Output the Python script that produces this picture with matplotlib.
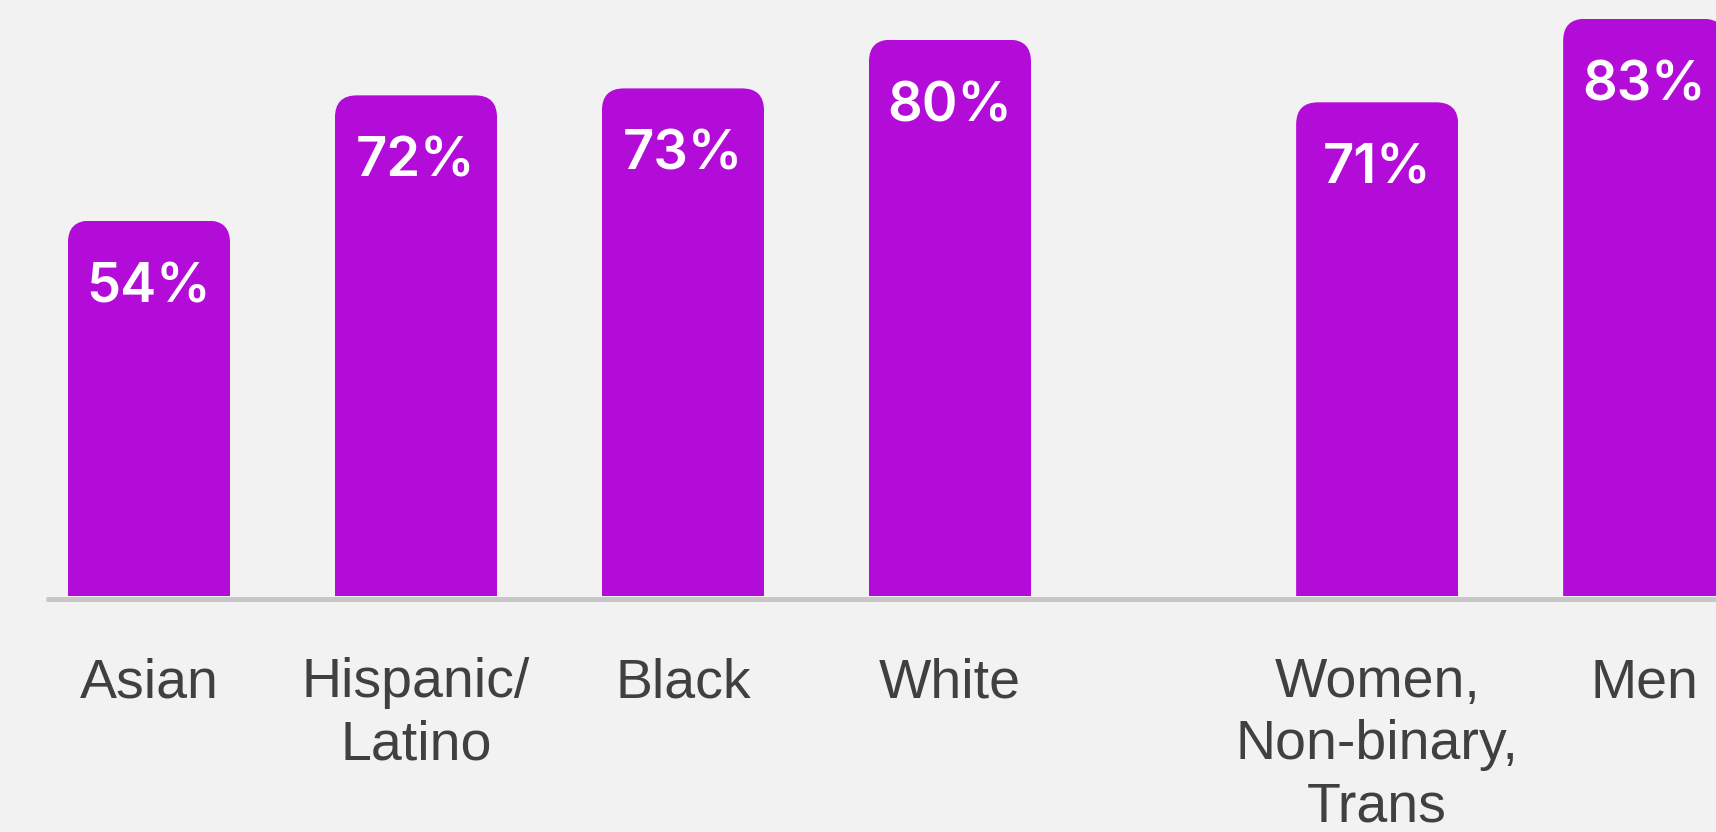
import matplotlib
matplotlib.use("Agg")
import matplotlib.pyplot as plt
from matplotlib.patches import FancyBboxPatch

# Share of each group (percent)
categories = ["Asian", "Hispanic/\nLatino", "Black", "White",
              "Women,\nNon-binary,\nTrans", "Men"]
values = [54, 72, 73, 80, 71, 83]
# race groups first, then a wider gap before the gender groups
positions = [0, 1, 2, 3, 4.6, 5.6]

BG = "#f2f2f2"
PURPLE = "#b30cd9"
LABEL = "#404040"
AXIS = "#c8c6c8"
FONT = "Liberation Sans"

W, H, DPI = 1716, 832, 100
fig = plt.figure(figsize=(W / DPI, H / DPI), dpi=DPI, facecolor=BG)
ax = fig.add_axes([0, 0, 1, 1])
ax.set_facecolor(BG)
xlim = (-0.558, 5.869)
ylim = (-33.84, 85.7)
ax.set_xlim(*xlim)
ax.set_ylim(*ylim)
ax.axis("off")

# pixels per data unit, used to keep the rounded corners circular
px_x = W / (xlim[1] - xlim[0])
px_y = H / (ylim[1] - ylim[0])
aspect = px_x / px_y
radius = 22 / px_x

bars = ax.bar(positions, values, width=0.607, color=PURPLE, zorder=2)
for rect in bars:
    x, w, h = rect.get_x(), rect.get_width(), rect.get_height()
    rect.set_visible(False)
    rounded = FancyBboxPatch((x, -5), w, h + 5,
                             boxstyle=f"round,pad=0,rounding_size={radius}",
                             mutation_aspect=aspect, fc=PURPLE, ec="none",
                             zorder=2)
    ax.add_patch(rounded)
    rounded.set_clip_path(rect)

# baseline
ax.plot([(46 / px_x) + xlim[0], xlim[1]], [-0.36, -0.36], color=AXIS,
        lw=3.6, solid_capstyle="butt", zorder=3)

for x, v in zip(positions, values):
    ax.text(x, v - 11.7, f"{v}%", ha="center", va="baseline",
            color="white", fontsize=39, fontweight=600,
            family=["Inter", FONT], zorder=4)

for x, lab in zip(positions, categories):
    ax.text(x, -8.7, lab, ha="center", va="top", color=LABEL,
            fontsize=40, family=FONT, linespacing=1.25, zorder=4)

fig.savefig("out.png", dpi=DPI, facecolor=BG)
